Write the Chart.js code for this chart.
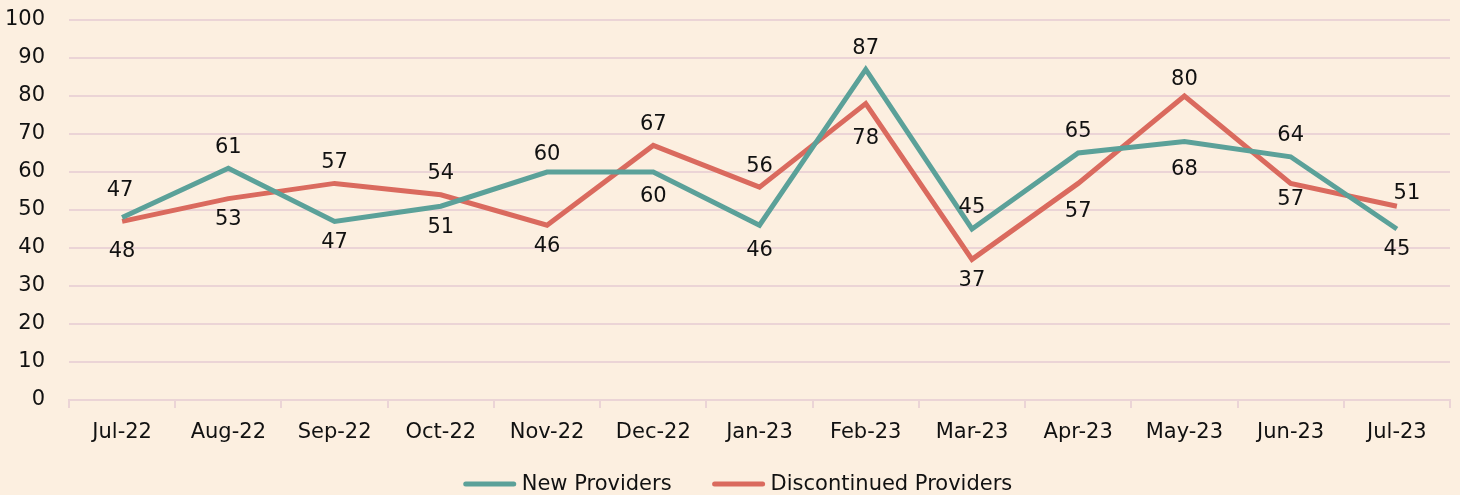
<!DOCTYPE html>
<html>
<head>
<meta charset="utf-8">
<script src="https://cdn.jsdelivr.net/npm/chart.js@4/dist/chart.umd.min.js"></script>
<style>
  html, body { margin: 0; padding: 0; background: #FCEFE0; }
  #wrap { width: 1460px; height: 495px; }
  canvas { display: block; }
</style>
</head>
<body>
<div id="wrap"><canvas id="c" width="1460" height="495"></canvas></div>
<script>
// ---- data ----
const categories = ['Jul-22','Aug-22','Sep-22','Oct-22','Nov-22','Dec-22','Jan-23','Feb-23','Mar-23','Apr-23','May-23','Jun-23','Jul-23'];
const newProviders = [48, 61, 47, 51, 60, 60, 46, 87, 45, 65, 68, 64, 45];
const discontinuedProviders = [47, 53, 57, 54, 46, 67, 56, 78, 37, 57, 80, 57, 51];
const yTicks = [0, 10, 20, 30, 40, 50, 60, 70, 80, 90, 100];

// ---- label placement (style, not data): 'a' = above, 'b' = below ----
const newLabelPos  = ['b','a','b','b','a','b','b','a','a','a','b','a','b'];
const discLabelPos = ['a','b','a','a','b','a','a','b','b','b','a','b','a'];
const newLabelShift  = {0: [0, 13], 4: [0, 4], 5: [0, 4], 6: [0, 4], 10: [0, 7]};
const discLabelShift = {0: [-2, -10], 7: [0, 14], 9: [0, 7], 10: [0, 5], 11: [0, -5], 12: [10, 8]};

const FONT = '"DejaVu Sans", sans-serif';
const FS = 21;
const GRID = '#EBD4D6';
const TEAL = '#5BA199';
const RED = '#DA6A5E';

const dataLabels = {
  id: 'dataLabels',
  afterDatasetsDraw(chart) {
    const ctx = chart.ctx;
    ctx.save();
    ctx.font = FS + 'px ' + FONT;
    ctx.fillStyle = '#111';
    ctx.textAlign = 'center';
    ctx.textBaseline = 'middle';
    chart.data.datasets.forEach((ds, di) => {
      const meta = chart.getDatasetMeta(di);
      const pos = ds.labelPos;
      meta.data.forEach((pt, i) => {
        let dy = pos[i] === 'a' ? -21 : 21;
        let dx = 0;
        if (ds.labelShift && ds.labelShift[i]) {
          dx += ds.labelShift[i][0];
          dy += ds.labelShift[i][1];
        }
        ctx.fillText(String(ds.data[i]), pt.x + dx, pt.y + dy);
      });
    });
    ctx.restore();
  }
};

const customLegend = {
  id: 'customLegend',
  afterDraw(chart) {
    const ctx = chart.ctx;
    ctx.save();
    ctx.font = FS + 'px ' + FONT;
    ctx.textBaseline = 'middle';
    ctx.textAlign = 'left';
    const lineW = 52, gapText = 6, gapItem = 41;
    const items = chart.data.datasets.map(ds => ({label: ds.label, color: ds.borderColor, w: ctx.measureText(ds.label).width}));
    let total = 0;
    items.forEach((it, i) => { total += lineW + gapText + it.w + (i < items.length - 1 ? gapItem : 0); });
    let x = 738 - total / 2;
    const y = 484;
    items.forEach(it => {
      ctx.strokeStyle = it.color;
      ctx.lineWidth = 5;
      ctx.lineCap = 'round';
      ctx.beginPath();
      ctx.moveTo(x + 2, y);
      ctx.lineTo(x + lineW - 2, y);
      ctx.stroke();
      ctx.fillStyle = '#111';
      ctx.fillText(it.label, x + lineW + gapText, y + 1);
      x += lineW + gapText + it.w + gapItem;
    });
    ctx.restore();
  }
};

new Chart(document.getElementById('c'), {
  type: 'line',
  data: {
    labels: categories,
    datasets: [
      {
        label: 'New Providers',
        data: newProviders,
        borderColor: TEAL,
        backgroundColor: TEAL,
        borderWidth: 5,
        pointRadius: 0,
        tension: 0,
        labelPos: newLabelPos,
        labelShift: newLabelShift
      },
      {
        label: 'Discontinued Providers',
        data: discontinuedProviders,
        borderColor: RED,
        backgroundColor: RED,
        borderWidth: 5,
        pointRadius: 0,
        tension: 0,
        labelPos: discLabelPos,
        labelShift: discLabelShift
      }
    ]
  },
  options: {
    responsive: false,
    devicePixelRatio: 1,
    animation: false,
    layout: { padding: { top: 20, right: 10, left: 0, bottom: 35 } },
    plugins: {
      legend: { display: false },
      tooltip: { enabled: false }
    },
    scales: {
      x: {
        offset: true,
        grid: { offset: true, drawOnChartArea: false, drawTicks: true, tickLength: 8, color: GRID, lineWidth: 2 },
        border: { display: true, color: GRID, width: 2 },
        ticks: { color: '#111', font: { family: FONT, size: FS }, padding: 12, maxRotation: 0, autoSkip: false },
        afterFit(scale) { scale.height = 60; scale.paddingLeft = 0; scale.paddingRight = 0; }
      },
      y: {
        min: 0,
        max: 100,
        afterBuildTicks(scale) { scale.ticks = yTicks.map(v => ({ value: v })); },
        grid: { color: GRID, lineWidth: 2, drawTicks: false },
        border: { display: false },
        ticks: { color: '#111', font: { family: FONT, size: FS }, padding: 24 },
        afterFit(scale) { scale.width = 69; scale.paddingTop = 0; scale.paddingBottom = 0; }
      }
    }
  },
  plugins: [dataLabels, customLegend]
});
</script>
</body>
</html>
